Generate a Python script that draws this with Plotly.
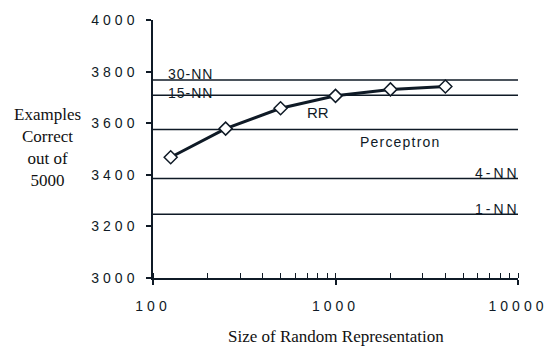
import plotly.graph_objects as go

# Data
rr_sizes = [125, 250, 500, 1000, 2000, 4000]
rr_correct = [3468, 3579, 3658, 3706, 3731, 3742]

baseline_names = ["30-NN", "15-NN", "Perceptron", "4-NN", "1-NN"]
baseline_values = [3767, 3708, 3576, 3386, 3247]

y_tick_vals = [3000, 3200, 3400, 3600, 3800, 4000]
x_tick_vals = [100, 1000, 10000]

x_range = [100, 10000]

INK = "#0f1a26"
SANS = "Arial, Liberation Sans, sans-serif"
SERIF = "Times New Roman, Liberation Serif, serif"


def spaced(s, px=4):
    return f'<span style="letter-spacing:{px}px">{s}</span>'


fig = go.Figure()

# Baseline horizontal lines
for name, v in zip(baseline_names, baseline_values):
    fig.add_trace(go.Scatter(
        x=x_range, y=[v, v], mode="lines",
        line=dict(color=INK, width=1.5), hoverinfo="skip", showlegend=False))

# RR curve
fig.add_trace(go.Scatter(
    x=rr_sizes, y=rr_correct, mode="lines+markers",
    line=dict(color=INK, width=3),
    marker=dict(symbol="diamond", size=10, color="white",
                line=dict(color=INK, width=1.5)),
    showlegend=False))

fig.update_xaxes(
    type="log", range=[2, 4],
    showgrid=False, zeroline=False,
    showline=True, linecolor=INK, linewidth=1.5,
    ticks="outside", ticklen=5, tickwidth=1.5, tickcolor=INK,
    tickvals=x_tick_vals, ticktext=[spaced(str(v)) for v in x_tick_vals],
    tickfont=dict(family=SANS, size=14, color=INK),
    ticklabelstandoff=9,
    minor=dict(ticks="inside", ticklen=5, tickwidth=1.2, tickcolor=INK,
               dtick="D1", showgrid=False),
)
fig.update_yaxes(
    range=[3000, 4000],
    showgrid=False, zeroline=False,
    showline=True, linecolor=INK, linewidth=1.5,
    ticks="outside", ticklen=5, tickwidth=1.5, tickcolor=INK,
    tickvals=y_tick_vals, ticktext=[spaced(str(v)) for v in y_tick_vals],
    tickfont=dict(family=SANS, size=14, color=INK),
    ticklabelstandoff=5,
)

ann = []
# label positions (style)
label_pos = {
    "30-NN": dict(x=2, y=3791, xanchor="left", xshift=13, sp=1),
    "15-NN": dict(x=2, y=3718, xanchor="left", xshift=13, sp=1),
    "Perceptron": dict(x=3.355, y=3526, xanchor="center", xshift=0, sp=1.2),
    "4-NN": dict(x=4, y=3408, xanchor="right", xshift=4, sp=3),
    "1-NN": dict(x=4, y=3268, xanchor="right", xshift=4, sp=3),
}
for name in baseline_names:
    p = label_pos[name]
    ann.append(dict(x=p["x"], y=p["y"], xref="x", yref="y", text=spaced(name, p["sp"]),
                    showarrow=False, xanchor=p["xanchor"], yanchor="middle",
                    xshift=p["xshift"],
                    font=dict(family=SANS, size=14, color=INK)))
ann.append(dict(x=2.902, y=3640, xref="x", yref="y", text="RR", showarrow=False,
                xanchor="center", yanchor="middle",
                font=dict(family=SANS, size=15, color=INK)))

ann.append(dict(x=0.5, y=0, xref="paper", yref="paper",
                text="Size of Random Representation", showarrow=False,
                xanchor="center", yanchor="middle", yshift=-58,
                font=dict(family=SERIF, size=17, color="#111")))
ann.append(dict(x=0, y=0.504, xref="paper", yref="paper",
                text="Examples<br>Correct<br>out of<br>5000", showarrow=False,
                xanchor="center", yanchor="middle", xshift=-106, align="center",
                font=dict(family=SERIF, size=17, color="#111")))

fig.update_layout(
    width=559, height=346,
    margin=dict(l=153, r=39, t=14, b=68),
    paper_bgcolor="white", plot_bgcolor="white",
    annotations=ann,
)

fig.write_html("out.html", config={"displayModeBar": False},
               post_script="document.body.style.margin='0';")
